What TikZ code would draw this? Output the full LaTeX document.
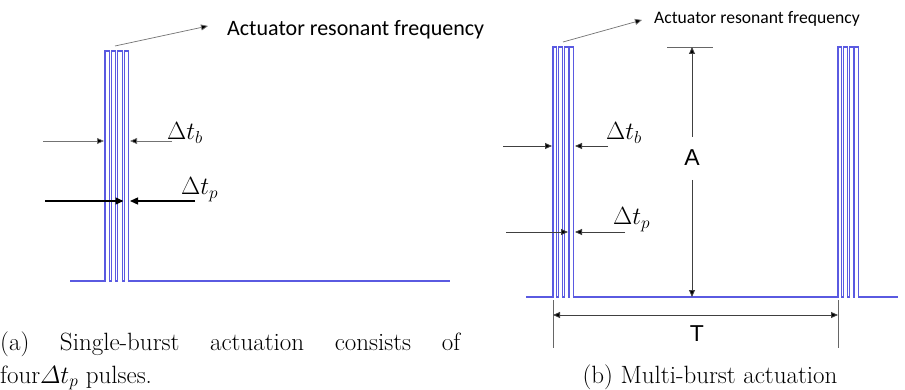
\documentclass[tikz,border=0pt]{standalone}
\usepackage[no-math]{fontspec}
\newfontfamily\calib{Carlito}
\newfontfamily\arialf{Liberation Sans}
\usetikzlibrary{arrows.meta}
\definecolor{wavec}{RGB}{90,90,225}
\begin{document}
\begin{tikzpicture}[x=1pt,y=-1pt,
  wave/.style={draw=wavec, line width=1.05pt, line join=miter},
  dimg/.style={draw=black!55, line width=0.7pt, -{Triangle[length=7pt,width=6pt,fill=black]}},
  dimk/.style={draw=black, line width=1.3pt, -{Triangle[length=8pt,width=7pt]}},
  dimd/.style={draw=black!75, line width=0.9pt, -{Triangle[length=7pt,width=6pt,fill=black]}},
  thinl/.style={draw=black!60, line width=0.6pt},
  mlab/.style={anchor=base west, inner sep=0pt, font=\fontsize{23}{27}\selectfont},
  caption/.style={inner sep=0pt, font=\fontsize{25}{30}\selectfont},
  actbig/.style={anchor=base west, inner sep=0pt, font=\calib\fontsize{22}{26}\selectfont},
  actsmall/.style={anchor=base west, inner sep=0pt, font=\calib\fontsize{17.6}{21}\selectfont},
  dimlab/.style={inner sep=0pt, font=\arialf\fontsize{23}{27}\selectfont}
]
\useasboundingbox (0,0) rectangle (905,390);
\fill[white] (0,0) rectangle (905,390);

% ---------- panel (a) ----------
\draw[wave] (70,281) \foreach \k in {0,...,3}{
   -- ({105+\k*6.4},281) -- ({105+\k*6.4},51) -- ({105+\k*6.4+4.4},51) -- ({105+\k*6.4+4.4},281) }
   -- (450,281);

\node[actbig] (acta) at (227,36) {Actuator resonant frequency};
\coordinate (acta0) at (115,46);
\coordinate (acta1) at (208,26);
\draw[dimg] (acta0) -- (acta1);

\coordinate (ab1) at (43,141);  \coordinate (ab2) at (104,141);
\coordinate (ab3) at (172,141); \coordinate (ab4) at (130,141);
\draw[dimg] (ab1) -- (ab2);
\draw[dimg] (ab3) -- (ab4);
\node[mlab] (dtba) at (167,140) {$\Delta t_b$};

\coordinate (ap1) at (45,201);  \coordinate (ap2) at (123.5,201);
\coordinate (ap3) at (195,201); \coordinate (ap4) at (130,201);
\draw[dimk] (ap1) -- (ap2);
\draw[dimk] (ap3) -- (ap4);
\node[mlab] (dtpa) at (181,195) {$\Delta t_p$};

\node[caption, anchor=base west] (capa1) at (0,350)
  {\hbox to 460pt{(a)\hfill Single-burst\hfill actuation\hfill consists\hfill of}};
\node[caption, anchor=base west] (capa2) at (0,383) {four$\mathnormal{\Delta} t_p$ pulses.};

% ---------- panel (b) ----------
\draw[wave] (526,297) \foreach \k in {0,...,3}{
   -- ({553+\k*5.6},297) -- ({553+\k*5.6},47) -- ({553+\k*5.6+3.9},47) -- ({553+\k*5.6+3.9},297) }
   \foreach \k in {0,...,3}{
   -- ({838+\k*5.6},297) -- ({838+\k*5.6},47) -- ({838+\k*5.6+3.9},47) -- ({838+\k*5.6+3.9},297) }
   -- (898,297);

\node[actsmall] (actb) at (654,24) {Actuator resonant frequency};
\coordinate (actb0) at (563,42);
\coordinate (actb1) at (642,20);
\draw[dimg] (actb0) -- (actb1);

\coordinate (bb1) at (503,146); \coordinate (bb2) at (552,146);
\coordinate (bb3) at (608,146); \coordinate (bb4) at (575,146);
\draw[dimd] (bb1) -- (bb2);
\draw[dimd] (bb3) -- (bb4);
\node[mlab] (dtbb) at (606,140) {$\Delta t_b$};

\coordinate (bp1) at (506,232); \coordinate (bp2) at (568,232);
\coordinate (bp3) at (625,232); \coordinate (bp4) at (575,232);
\draw[dimd] (bp1) -- (bp2);
\draw[dimd] (bp3) -- (bp4);
\node[mlab] (dtpb) at (613,225) {$\Delta t_p$};

% A dimension
\coordinate (atk1) at (667,47); \coordinate (atk2) at (713,47);
\draw[thinl] (atk1) -- (atk2);
\node[dimlab] (alab) at (692,158) {A};
\coordinate (atop) at (692,47); \coordinate (abot) at (692,297);
\draw[dimd] (692,137) -- (atop);
\draw[dimd] (692,180) -- (abot);

% T dimension
\coordinate (tl0) at (553,300); \coordinate (tl1) at (553,348);
\coordinate (tr0) at (838,300); \coordinate (tr1) at (838,348);
\draw[thinl] (tl0) -- (tl1);
\draw[thinl] (tr0) -- (tr1);
\coordinate (ta) at (553,315); \coordinate (tb) at (838,315);
\draw[dimd, {Triangle[length=7pt,width=6pt,fill=black]}-{Triangle[length=7pt,width=6pt,fill=black]}] (ta) -- (tb);
\node[dimlab] (tlab) at (697,334) {T};

\node[caption, anchor=base] (capb) at (710,383) {(b) Multi-burst actuation};
\end{tikzpicture}
\end{document}
